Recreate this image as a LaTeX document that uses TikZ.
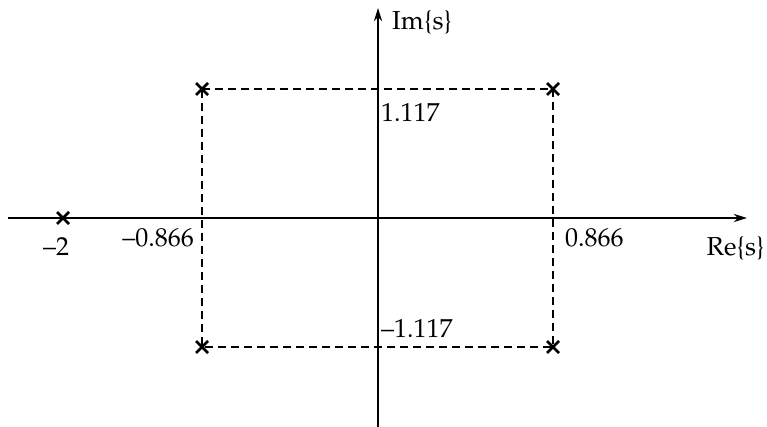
\documentclass[tikz,border=0pt]{standalone}
\usepackage[T1]{fontenc}
\usepackage{mathpazo}
\usetikzlibrary{arrows.meta}
\begin{document}
\begin{tikzpicture}[x=1pt,y=-1pt,
  axis/.style={line width=2.2pt,-{Stealth[length=13pt,width=8pt,inset=4pt]}},
  guide/.style={line width=2pt,dash pattern=on 8pt off 5pt},
  pole/.style={line width=2.8pt},
  lbl/.style={inner sep=0pt,font=\fontfamily{ppl}\fontsize{26}{30}\selectfont}]
\useasboundingbox (0,0) rectangle (767,427);
% axis ends
\coordinate (xl) at (8,218);
\coordinate (xr) at (747,218);
\coordinate (yb) at (378,427);
\coordinate (yt) at (378,8);
% poles
\coordinate (p0) at (63,218);
\coordinate (p1) at (202,89);
\coordinate (p2) at (553,89);
\coordinate (p3) at (553,347);
\coordinate (p4) at (202,347);
% dashed guides
\draw[guide] (p1) -- (p2) -- (p3) -- (p4) -- cycle;
% axes
\draw[axis] (xl) -- (xr);
\draw[axis] (yb) -- (yt);
% pole marks
\foreach \p in {p0,p1,p2,p3,p4}{
  \draw[pole] ([shift={(-6,-6)}]\p) -- ([shift={(6,6)}]\p);
  \draw[pole] ([shift={(-6,6)}]\p) -- ([shift={(6,-6)}]\p);
}
% labels
\node[lbl,anchor=base west] (im) at (392,30) {Im\{s\}};
\node[lbl,anchor=base east] (re) at (765,256) {Re\{s\}};
\node[lbl,anchor=base west] (a1) at (381,122) {1.117};
\node[lbl,anchor=base west] (a2) at (381,337) {\textendash1.117};
\node[lbl,anchor=base west] (b1) at (565,247) {0.866};
\node[lbl,anchor=base east] (b2) at (194,247) {\textendash0.866};
\node[lbl,anchor=base west] (c1) at (43,255) {\textendash2};
\end{tikzpicture}
\end{document}
